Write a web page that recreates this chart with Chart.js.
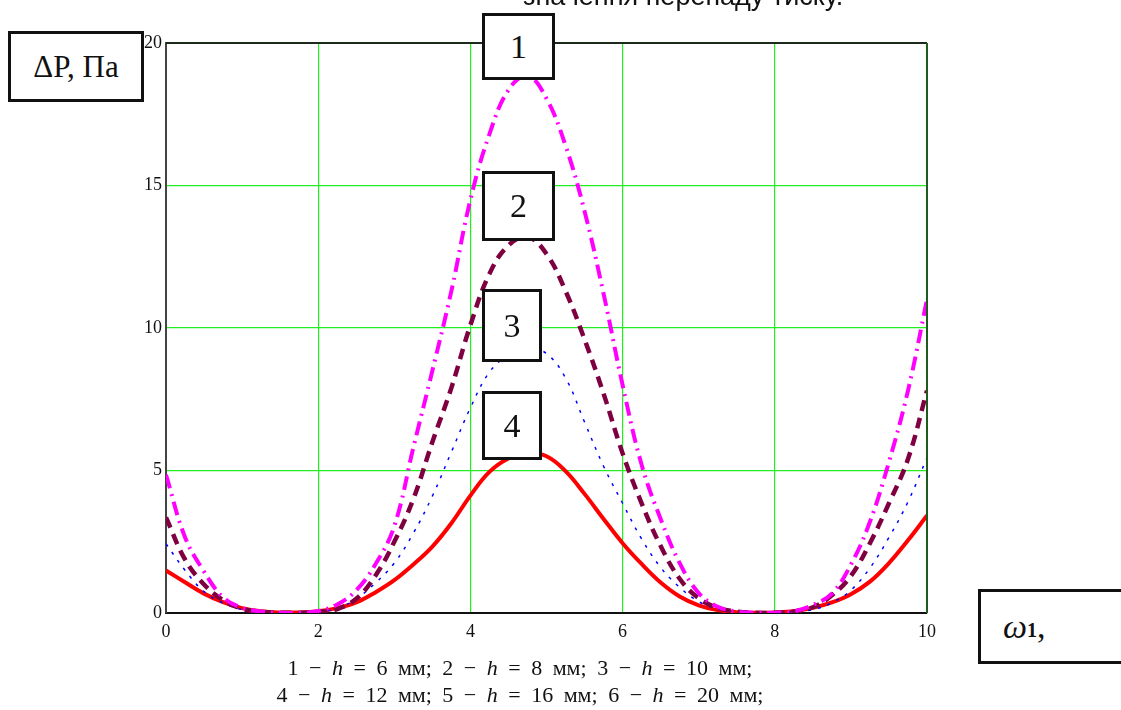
<!DOCTYPE html>
<html>
<head>
<meta charset="utf-8">
<script src="https://cdn.jsdelivr.net/npm/chart.js@4.4.1/dist/chart.umd.min.js"></script>
<style>
  html, body { margin: 0; padding: 0; background: #fff; }
  #wrap { position: relative; width: 1121px; height: 710px; overflow: hidden; }
  #pressureChart { position: absolute; left: 0; top: 0; }
  .box {
    position: absolute; box-sizing: border-box; background: #fff;
    border: 3px solid #111; color: #111;
    font-family: "Liberation Serif", "DejaVu Serif", serif;
    display: flex; align-items: center; justify-content: center;
  }
  .num { width: 73px; height: 67px; font-size: 34px; left: 482px; }
  .num.narrow { width: 60px; }
  #topText {
    position: absolute; left: 523px; top: -19px; white-space: nowrap;
    font-family: "Liberation Sans", Arial, sans-serif; font-size: 27px; color: #111;
  }
  .note {
    position: absolute; left: 0; width: 1040px; text-align: center; white-space: nowrap;
    font-family: "Liberation Serif", "DejaVu Serif", serif; font-size: 22px; color: #111;
    word-spacing: 5px; line-height: 25px;
  }
  .note i { font-style: italic; }
</style>
</head>
<body>
<div id="wrap">
  <canvas id="pressureChart" width="1121" height="710"></canvas>
  <div id="topText">значення перепаду тиску.</div>
  <div class="box" style="left:8px; top:31px; width:136px; height:71px; font-size:31px;">ΔP, Па</div>
  <div class="box" style="left:978px; top:589px; width:160px; height:75px; font-size:34px; justify-content:flex-start; padding-left:22px;"><i>ω</i><sub style="font-size:20px; font-weight:bold; position:relative; top:4px;">1</sub>,</div>
  <div class="box num" style="top:13px;">1</div>
  <div class="box num" style="top:171px; height:70px;">2</div>
  <div class="box num narrow" style="top:289px; height:73px;">3</div>
  <div class="box num narrow" style="top:391px; height:69px;">4</div>
  <div class="note" style="top:655px;">1 − <i>h</i> = 6 мм; 2 − <i>h</i> = 8 мм; 3 − <i>h</i> = 10 мм;</div>
  <div class="note" style="top:682px;">4 − <i>h</i> = 12 мм; 5 − <i>h</i> = 16 мм; 6 − <i>h</i> = 20 мм;</div>
</div>
<script>
// omega_1 values along the x axis
const omega = [0, 0.25, 0.5, 0.75, 1, 1.25, 1.5, 1.75, 2, 2.25, 2.5, 2.75, 3, 3.25, 3.5, 3.75, 4,
  4.25, 4.5, 4.75, 5, 5.25, 5.5, 5.75, 6, 6.25, 6.5, 6.75, 7, 7.25, 7.5, 7.75, 8, 8.25, 8.5, 8.75,
  9, 9.25, 9.5, 9.75, 10];

// curve 1 (h = 6 mm)
const curve1 = [4.85, 2.66, 1.45, 0.55, 0.18, 0.05, 0.01, 0.01, 0.07, 0.3, 0.8, 1.7, 3.05, 5.8, 8.5, 11.3, 14.5,
  16.8, 18.35, 18.85, 18.05, 16.4, 14.1, 11.2, 8.0, 5.2, 3.3, 1.75, 0.7, 0.22, 0.05, 0.01, 0.01, 0.06, 0.28, 0.68,
  1.7, 3.2, 5.3, 7.8, 11.0];

// curve 2 (h = 8 mm)
const curve2 = [3.35, 1.88, 1.0, 0.45, 0.15, 0.04, 0.01, 0.01, 0.04, 0.14, 0.5, 1.3, 2.5, 4.0, 6.0, 7.9, 10.1,
  11.9, 12.9, 13.2, 12.6, 11.3, 9.6, 7.7, 5.6, 3.85, 2.35, 1.2, 0.52, 0.18, 0.05, 0.01, 0.01, 0.05, 0.2, 0.62,
  1.3, 2.45, 3.85, 5.4, 7.8];

// curve 3 (h = 10 mm)
const curve3 = [2.43, 1.5, 0.75, 0.35, 0.12, 0.03, 0.01, 0.01, 0.04, 0.16, 0.5, 1.05, 1.75, 2.8, 4.1, 5.65, 7.2,
  8.45, 9.05, 9.3, 9.1, 8.25, 6.7, 5.15, 3.85, 2.6, 1.6, 0.9, 0.4, 0.14, 0.04, 0.01, 0.01, 0.04, 0.12, 0.36,
  0.8, 1.58, 2.65, 3.9, 5.45];

// curve 4 (h = 12 mm)
const curve4 = [1.49, 1.08, 0.68, 0.38, 0.17, 0.06, 0.02, 0.02, 0.06, 0.17, 0.37, 0.72, 1.15, 1.7, 2.33, 3.15, 4.12,
  4.95, 5.42, 5.6, 5.5, 4.98, 4.18, 3.3, 2.45, 1.72, 1.07, 0.58, 0.27, 0.1, 0.03, 0.01, 0.02, 0.06, 0.18, 0.37,
  0.66, 1.1, 1.75, 2.55, 3.42];

const yTicks = [0, 5, 10, 15, 20];
const xTicks = [0, 2, 4, 6, 8, 10];

function toPoints(values) {
  return omega.map((x, i) => ({ x: x, y: values[i] }));
}

// Top and right frame lines of the plot
const frameLines = {
  id: 'frameLines',
  afterDatasetsDraw(chart) {
    const { ctx, chartArea: a } = chart;
    ctx.save();
    ctx.lineWidth = 2;
    ctx.strokeStyle = '#1c2a1c';
    ctx.beginPath();
    ctx.moveTo(a.left, a.top);
    ctx.lineTo(a.right, a.top);
    ctx.stroke();
    ctx.strokeStyle = '#1f5a1f';
    ctx.beginPath();
    ctx.moveTo(a.right, a.top);
    ctx.lineTo(a.right, a.bottom);
    ctx.stroke();
    ctx.restore();
  }
};

const tickFont = { family: '"Liberation Serif", "DejaVu Serif", serif', size: 18 };

new Chart(document.getElementById('pressureChart'), {
  type: 'line',
  data: {
    datasets: [
      {
        label: '1',
        data: toPoints(curve1),
        borderColor: '#ff00ff',
        borderWidth: 4,
        borderDash: [14, 6, 2, 6]
      },
      {
        label: '2',
        data: toPoints(curve2),
        borderColor: '#7f0040',
        borderWidth: 4.5,
        borderDash: [11, 7]
      },
      {
        label: '3',
        data: toPoints(curve3),
        borderColor: '#0000ff',
        borderWidth: 1.5,
        borderDash: [3, 7]
      },
      {
        label: '4',
        data: toPoints(curve4),
        borderColor: '#ff0000',
        borderWidth: 4
      }
    ]
  },
  options: {
    responsive: false,
    animation: false,
    tension: 0.4,
    elements: { point: { radius: 0 } },
    layout: { padding: { left: 0, top: 43, right: 194, bottom: 0 } },
    scales: {
      x: {
        type: 'linear',
        min: 0,
        max: 10,
        afterFit: s => { s.height = 97; },
        afterBuildTicks: s => { s.ticks = xTicks.map(v => ({ value: v })); },
        ticks: { color: '#111', font: tickFont, padding: 8, maxRotation: 0 },
        grid: { color: '#22ee22', lineWidth: 1.2, drawTicks: false },
        border: { color: '#111', width: 2 }
      },
      y: {
        min: 0,
        max: 20,
        afterFit: s => { s.width = 166; },
        afterBuildTicks: s => { s.ticks = yTicks.map(v => ({ value: v })); },
        ticks: { color: '#111', font: tickFont, padding: 4 },
        grid: { color: '#22ee22', lineWidth: 1.2, drawTicks: false },
        border: { color: '#444', width: 2 }
      }
    },
    plugins: {
      legend: { display: false },
      tooltip: { enabled: false }
    }
  },
  plugins: [frameLines]
});
</script>
</body>
</html>
